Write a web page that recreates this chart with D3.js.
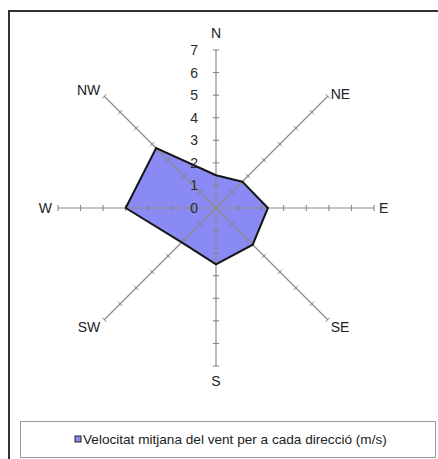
<!DOCTYPE html>
<html>
<head>
<meta charset="utf-8">
<script src="https://cdn.jsdelivr.net/npm/d3@7"></script>
<style>
  body { margin: 0; background: #fff; }
  svg { display: block; font-family: "Liberation Sans", Arial, sans-serif; }
</style>
</head>
<body>
<svg id="chart" width="438" height="459"></svg>
<script>
// wind directions and mean speed (m/s) per direction
const directions = ["N", "NE", "E", "SE", "S", "SW", "W", "NW"];
const speeds = [1.45, 1.65, 2.3, 2.3, 2.5, 2.15, 4.0, 3.75];
const radialTicks = [0, 1, 2, 3, 4, 5, 6, 7];
const legendLabel = "Velocitat mitjana del vent per a cada direcció (m/s)";

const svg = d3.select("#chart");
const cx = 216, cy = 208;

const r = d3.scaleLinear().domain([0, 7]).range([0, 158]);
const angle = d3.scalePoint().domain(directions).range([0, 315]); // degrees clockwise from north

function pt(dir, v) {
    const a = angle(dir) * Math.PI / 180;
    return [cx + r(v) * Math.sin(a), cy - r(v) * Math.cos(a)];
}

// outer frame (cropped on right/bottom like the original)
svg.append("rect")
    .attr("x", 9).attr("y", 11)
    .attr("width", 440).attr("height", 460)
    .attr("fill", "#fff")
    .attr("stroke", "#333")
    .attr("stroke-width", 2);

const data = directions.map((d, i) => ({dir: d, v: speeds[i]}));
const line = d3.line().x(d => pt(d.dir, d.v)[0]).y(d => pt(d.dir, d.v)[1]).curve(d3.curveLinearClosed);

// polygon fill
svg.append("path")
    .datum(data)
    .attr("d", line)
    .attr("fill", "#8a8af4");

// axes with ticks
const axes = svg.append("g").attr("class", "axes");
directions.forEach(dir => {
    const end = pt(dir, 7);
    axes.append("line")
        .attr("x1", cx).attr("y1", cy)
        .attr("x2", end[0]).attr("y2", end[1])
        .attr("stroke", "#8c8c8c").attr("stroke-width", 1.2);
    const a = angle(dir) * Math.PI / 180;
    const px = Math.cos(a), py = Math.sin(a); // perpendicular unit vector
    radialTicks.slice(1).forEach(t => {
        const p = pt(dir, t);
        axes.append("line")
            .attr("x1", p[0] - 3 * px).attr("y1", p[1] - 3 * py)
            .attr("x2", p[0] + 3 * px).attr("y2", p[1] + 3 * py)
            .attr("stroke", "#808080").attr("stroke-width", 1);
    });
});

// polygon outline
svg.append("path")
    .datum(data)
    .attr("d", line)
    .attr("fill", "none")
    .attr("stroke", "#151515")
    .attr("stroke-width", 2)
    .attr("stroke-linejoin", "miter");

// radial tick labels along the N axis
svg.append("g").selectAll("text")
    .data(radialTicks)
    .enter().append("text")
    .attr("x", cx - 18)
    .attr("y", d => cy - r(d))
    .attr("dy", "0.36em")
    .attr("text-anchor", "end")
    .attr("font-size", 14)
    .attr("fill", "#2a2a2a")
    .text(d => d);

// direction labels
const labelPos = {
    N:  {dx: 0,   dy: -17, anchor: "middle"},
    NE: {dx: 3,   dy: -2,  anchor: "start"},
    E:  {dx: 5,   dy: 0,   anchor: "start"},
    SE: {dx: 3,   dy: 7,   anchor: "start"},
    S:  {dx: 0,   dy: 15,  anchor: "middle"},
    SW: {dx: -4,  dy: 7,   anchor: "end"},
    W:  {dx: -6,  dy: 0,   anchor: "end"},
    NW: {dx: -4,  dy: -6,  anchor: "end"}
};
svg.append("g").selectAll("text")
    .data(directions)
    .enter().append("text")
    .attr("x", d => pt(d, 7)[0] + labelPos[d].dx)
    .attr("y", d => pt(d, 7)[1] + labelPos[d].dy)
    .attr("dy", "0.36em")
    .attr("text-anchor", d => labelPos[d].anchor)
    .attr("font-size", 14)
    .attr("fill", "#222")
    .text(d => d);

// legend
const legend = svg.append("g");
legend.append("rect")
    .attr("x", 20.5).attr("y", 421.5)
    .attr("width", 415).attr("height", 36)
    .attr("fill", "#fff")
    .attr("stroke", "#999");
legend.append("rect")
    .attr("x", 75).attr("y", 436)
    .attr("width", 6).attr("height", 6)
    .attr("fill", "#8a8af4")
    .attr("stroke", "#222");
legend.append("text")
    .attr("x", 83).attr("y", 439)
    .attr("dy", "0.36em")
    .attr("font-size", 13.6)
    .attr("fill", "#222")
    .text(legendLabel);
</script>
</body>
</html>
